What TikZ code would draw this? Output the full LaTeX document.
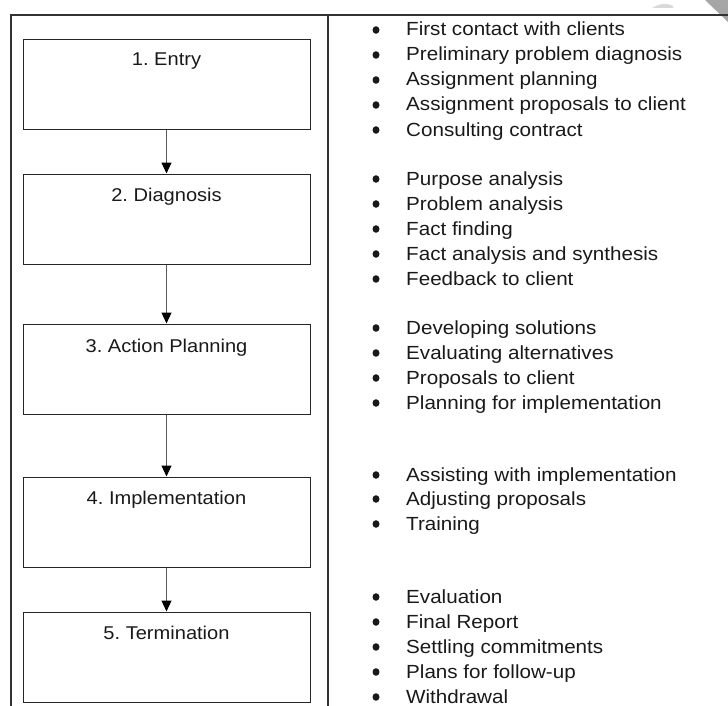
\documentclass[tikz,border=0pt]{standalone}
\usepackage{fontspec}
\setmainfont{Liberation Sans}[FakeStretch=1.085]
\usetikzlibrary{arrows.meta}
\begin{document}
\frenchspacing
\begin{tikzpicture}[x=1pt,y=-1pt,
  frameline/.style={draw=black!80, line width=1.2pt},
  phase/.style={draw=black!85, line width=1pt, minimum width=287pt, minimum height=90pt, inner sep=0pt},
  phasetext/.style={font=\fontsize{18.5}{20}\selectfont, text=black!90, anchor=base, inner sep=0pt},
  arr/.style={draw=black!65, line width=1.1pt, -{Triangle[length=11pt,width=10pt,color=black]}},
  item/.style={font=\fontsize{19}{21}\selectfont, text=black!90, anchor=base west, inner sep=0pt}]
\useasboundingbox (0,0) rectangle (728,706);
% page-curl artefact
\fill[black!35] (705,0) -- (728,0) -- (728,22) -- cycle;
\fill[black!15] (652,8) .. controls (660,3) and (668,3) .. (673,6) -- (673,8) -- cycle;
% outer frame
\coordinate (fl) at (11,706);
\coordinate (ftl) at (11,15);
\coordinate (ftr) at (728,15);
\coordinate (dt) at (328,15);
\coordinate (db) at (328,706);
\draw[frameline] (fl) -- (ftl) -- (ftr);
\draw[frameline] (dt) -- (db);
% phase boxes
\node[phase] (b1) at (166.5,84.5) {};
\node[phase] (b2) at (166.5,219) {};
\node[phase] (b3) at (166.5,369) {};
\node[phase] (b4) at (166.5,522) {};
\node[phase] (b5) at (166.5,657) {};
\node[phasetext] (t1) at (166.5,66) {1. Entry};
\node[phasetext] (t2) at (166.5,201) {2. Diagnosis};
\node[phasetext] (t3) at (166.5,352) {3. Action Planning};
\node[phasetext] (t4) at (166.5,504) {4. Implementation};
\node[phasetext] (t5) at (166.5,639) {5. Termination};
\draw[arr] (b1) -- (b2);
\draw[arr] (b2) -- (b3);
\draw[arr] (b3) -- (b4);
\draw[arr] (b4) -- (b5);
% bullet items
\foreach \y/\t [count=\i] in {
  29/First contact with clients,
  54/Preliminary problem diagnosis,
  79/Assignment planning,
  104/Assignment proposals to client,
  129/Consulting contract,
  178/Purpose analysis,
  203/Problem analysis,
  228/Fact finding,
  253/Fact analysis and synthesis,
  278/Feedback to client,
  327/Developing solutions,
  352/Evaluating alternatives,
  377/Proposals to client,
  402/Planning for implementation,
  474/Assisting with implementation,
  498/Adjusting proposals,
  523/Training,
  596/Evaluation,
  621/Final Report,
  646/Settling commitments,
  671/Plans for follow-up,
  696/Withdrawal}{
  \fill[black!90] (376,\y+1) ellipse [x radius=3.5, y radius=3.8];
  \coordinate (m\i) at (376,\y+1);
  \node[item] (i\i) at (406,\y+7) {\t};
}
\end{tikzpicture}
\end{document}
